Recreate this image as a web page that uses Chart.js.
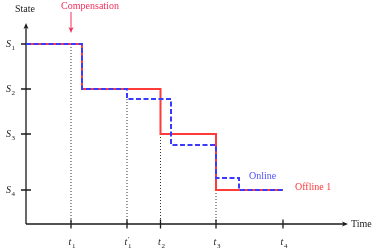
<!DOCTYPE html>
<html>
<head>
<meta charset="utf-8">
<script src="https://cdn.jsdelivr.net/npm/chart.js@4.4.0/dist/chart.umd.min.js"></script>
<style>
    html, body { margin: 0; padding: 0; background: #fff; }
    #wrap { width: 374px; height: 249px; }
</style>
</head>
<body>
<div id="wrap"><canvas id="graph1"></canvas></div>
<script>
// axis ticks (label = letter, subscript digit, optional prime)
let timeTicks = [45, 101, 134.5, 190, 257];
let timeLabels = ['t1', "t1'", 't2', 't3', 't4'];
let stateTicks = [180, 135, 90, 34];
let stateLabels = ['S1', 'S2', 'S3', 'S4'];

// step series: x where the level changes, y the new level
let offlineX = [0, 56, 134.5, 190, 257];
let offlineY = [180, 135, 90, 34, 34];
let onlineX = [0, 56, 101, 145, 190, 213, 257];
let onlineY = [180, 135, 125, 79, 46, 34, 34];

// dotted guides down to the time axis
let guideX = [45, 101, 134.5, 190];
let guideTop = [180, 125, 90, 34];

let red = '#ff3a3a';
let blue = '#3a3aff';
let serif = "'Liberation Serif', 'DejaVu Serif', serif";

function toPoints(xs, ys) {
    let pts = [];
    for (let i = 0; i < xs.length; i++) {
        pts.push({x: xs[i], y: ys[i]});
    }
    return pts;
}

let datasets = [
    {
        label: 'Online',
        data: toPoints(onlineX, onlineY),
        borderColor: blue,
        borderWidth: 2,
        borderDash: [5, 2.5],
        stepped: true,
        pointRadius: 0,
        fill: false,
        order: 0
    },
    {
        label: 'Offline 1',
        data: toPoints(offlineX, offlineY),
        borderColor: red,
        borderWidth: 2,
        stepped: true,
        pointRadius: 0,
        fill: false,
        order: 1
    }
];
for (let i = 0; i < guideX.length; i++) {
    datasets.push({
        label: 'guide' + i,
        data: [{x: guideX[i], y: guideTop[i]}, {x: guideX[i], y: 0}],
        borderColor: '#333',
        borderWidth: 1,
        borderDash: [1, 2],
        pointRadius: 0,
        fill: false,
        order: 2
    });
}

function arrowHead(ctx, x, y, dx, dy) {
    // dx,dy: unit direction of the arrow
    let px = -dy, py = dx;
    ctx.beginPath();
    ctx.moveTo(x, y);
    ctx.lineTo(x - dx * 6 + px * 2.5, y - dy * 6 + py * 2.5);
    ctx.lineTo(x - dx * 4.5, y - dy * 4.5);
    ctx.lineTo(x - dx * 6 - px * 2.5, y - dy * 6 - py * 2.5);
    ctx.closePath();
    ctx.fill();
}

// draws e.g. "t1'" as italic t with subscript 1 and prime; align 'center' or 'right'
function subLabel(ctx, label, x, baseY, align) {
    let base = label.charAt(0);
    let sub = label.charAt(1);
    let prime = label.indexOf("'") >= 0;
    ctx.font = 'italic 10px ' + serif;
    let wb = ctx.measureText(base).width;
    ctx.font = '7px ' + serif;
    let ws = ctx.measureText(sub).width;
    let total = wb + ws + 0.5;
    let x0 = align === 'right' ? x - total : x - total / 2;
    ctx.textAlign = 'left';
    ctx.textBaseline = 'alphabetic';
    ctx.font = 'italic 10px ' + serif;
    ctx.fillText(base, x0, baseY);
    ctx.font = '7px ' + serif;
    ctx.fillText(sub, x0 + wb + 0.5, baseY + 2.5);
    if (prime) {
        ctx.fillText('′', x0 + wb + 0.5, baseY - 4);
    }
}

const axesPlugin = {
    id: 'axes',
    beforeDatasetsDraw(chart) {
        let ctx = chart.ctx;
        let a = chart.chartArea;
        let xs = chart.scales.x;
        let ys = chart.scales.y;
        ctx.save();
        ctx.strokeStyle = '#1a1a1a';
        ctx.fillStyle = '#1a1a1a';
        ctx.lineWidth = 1.3;
        ctx.beginPath();
        ctx.moveTo(a.left, a.bottom);
        ctx.lineTo(a.right - 4, a.bottom);
        ctx.moveTo(a.left, a.bottom);
        ctx.lineTo(a.left, a.top + 4);
        timeTicks.forEach(function (v) {
            let px = xs.getPixelForValue(v);
            ctx.moveTo(px, a.bottom - 4.5);
            ctx.lineTo(px, a.bottom + 4.5);
        });
        stateTicks.forEach(function (v) {
            let py = ys.getPixelForValue(v);
            ctx.moveTo(a.left - 5, py);
            ctx.lineTo(a.left + 5, py);
        });
        ctx.stroke();
        arrowHead(ctx, a.right, a.bottom, 1, 0);
        arrowHead(ctx, a.left, a.top, 0, -1);
        ctx.restore();
    },
    afterDraw(chart) {
        let ctx = chart.ctx;
        let a = chart.chartArea;
        let xs = chart.scales.x;
        let ys = chart.scales.y;
        ctx.save();
        ctx.fillStyle = '#222';
        timeTicks.forEach(function (v, i) {
            subLabel(ctx, timeLabels[i], xs.getPixelForValue(v) + 1, a.bottom + 21, 'center');
        });
        stateTicks.forEach(function (v, i) {
            subLabel(ctx, stateLabels[i], 15, ys.getPixelForValue(v) + 3, 'right');
        });

        ctx.font = '10px ' + serif;
        ctx.textBaseline = 'middle';
        ctx.textAlign = 'left';
        ctx.fillText('State', 15, 9);
        ctx.fillText('Time', a.right + 3, a.bottom);

        ctx.fillStyle = '#f0305a';
        ctx.textAlign = 'center';
        ctx.fillText('Compensation', 90, 6);
        let ax = xs.getPixelForValue(timeTicks[0]);
        ctx.strokeStyle = '#f0305a';
        ctx.lineWidth = 1;
        ctx.beginPath();
        ctx.moveTo(ax, 12);
        ctx.lineTo(ax, 30);
        ctx.stroke();
        arrowHead(ctx, ax, 33, 0, 1);

        ctx.textAlign = 'left';
        ctx.fillStyle = '#5050ff';
        ctx.fillText('Online', 249, 176);
        ctx.fillStyle = red;
        ctx.fillText('Offline 1', 295, 187);
        ctx.restore();
    }
};

let ctx = document.getElementById('graph1').getContext('2d');

let options = {
    responsive: true,
    maintainAspectRatio: false,
    animation: false,
    layout: {padding: {left: 0, top: 23, right: 26, bottom: 0}},
    plugins: {legend: {display: false}, tooltip: {enabled: false}},
    scales: {
        x: {
            type: 'linear',
            min: 0,
            max: 322,
            afterFit: function (scale) { scale.height = 25; },
            afterBuildTicks: function (scale) {
                scale.ticks = timeTicks.map(function (v) { return {value: v}; });
            },
            ticks: {display: false},
            grid: {display: false, drawTicks: false},
            border: {display: false}
        },
        y: {
            type: 'linear',
            min: 0,
            max: 201,
            afterFit: function (scale) { scale.width = 26; },
            afterBuildTicks: function (scale) {
                scale.ticks = stateTicks.map(function (v) { return {value: v}; });
            },
            ticks: {display: false},
            grid: {display: false, drawTicks: false},
            border: {display: false}
        }
    }
};

let config = {
    type: 'line',
    data: {datasets: datasets},
    options: options,
    plugins: [axesPlugin]
};

let graph1 = new Chart(ctx, config);
</script>
</body>
</html>
